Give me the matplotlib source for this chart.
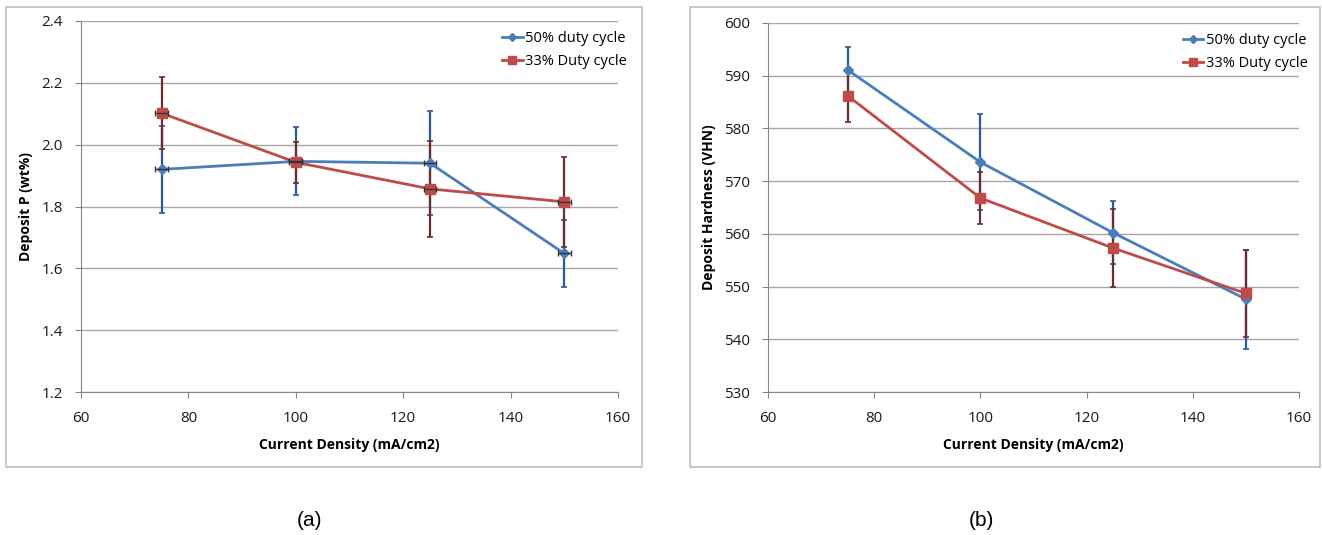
import matplotlib

matplotlib.use("Agg")
import matplotlib.pyplot as plt
from matplotlib.patches import Rectangle

current_density = [75, 100, 125, 150]

# (a) deposit P, wt%
p_50 = [1.92, 1.946, 1.94, 1.648]
p_50_err = [0.14, 0.11, 0.168, 0.107]
p_33 = [2.102, 1.943, 1.857, 1.815]
p_33_err = [0.117, 0.066, 0.155, 0.146]
p_xerr = [1.2, 1.2, 1.2, 1.2]

# (b) deposit hardness, VHN
h_50 = [591.1, 573.6, 560.2, 547.6]
h_50_err = [4.3, 9.1, 6.0, 9.4]
h_33 = [586.2, 566.8, 557.3, 548.7]
h_33_err = [4.9, 5.0, 7.4, 8.2]

labels = ["50% duty cycle", "33% Duty cycle"]
panel_tags = ["(a)", "(b)"]

BLUE = "#4a7ebb"
RED = "#be4b48"
BLUE_ERR = "#2f5a8f"
RED_ERR = "#6b2d2d"
GRID = "#a6a6a6"
FONT = "Liberation Sans"

plt.rcParams["font.family"] = ["Open Sans", "DejaVu Sans"]

fig = plt.figure(figsize=(13.22, 5.35), dpi=100)
W, H = 1322, 535


def px_axes(x0, x1, y0, y1):
    return fig.add_axes([x0 / W, 1 - y1 / H, (x1 - x0) / W, (y1 - y0) / H])


def style_axes(ax, ylim, yticks, yfmt, ylabel):
    ax.set_xlim(60, 160)
    ax.set_ylim(*ylim)
    ax.set_xticks(range(60, 161, 20))
    ax.set_yticks(yticks)
    ax.set_yticklabels([yfmt.format(v) for v in yticks])
    ax.yaxis.grid(True, color=GRID, lw=1)
    ax.set_axisbelow(True)
    for s in ["top", "right"]:
        ax.spines[s].set_visible(False)
    for s in ["left", "bottom"]:
        ax.spines[s].set_color("#868686")
    ax.tick_params(direction="out", length=4, color="#868686", labelsize=11,
                   labelcolor="#1a1a1a")
    ax.tick_params(axis="x", pad=10)
    ax.tick_params(axis="y", pad=9)
    ax.set_xlabel("Current Density (mA/cm2)", fontsize=10, fontweight="bold",
                  labelpad=8)
    ax.set_ylabel(ylabel, fontsize=10, fontweight="bold", labelpad=6)


def draw_series(ax, y, yerr, color, ecolor, marker, ms, label, xerr=None):
    ax.errorbar(current_density, y, yerr=yerr, xerr=xerr, fmt="none",
                ecolor=ecolor, elinewidth=1.6, capsize=2.5, capthick=1.2,
                zorder=3)
    ax.plot(current_density, y, color=color, lw=2, marker=marker, ms=ms,
            label=label, zorder=4)


# panel (a)
ax1 = px_axes(81, 618, 21, 392)
style_axes(ax1, (1.2, 2.4), [1.2, 1.4, 1.6, 1.8, 2.0, 2.2, 2.4], "{:.1f}",
           "Deposit P (wt%)")
draw_series(ax1, p_50, p_50_err, BLUE, BLUE_ERR, "D", 5, labels[0])
draw_series(ax1, p_33, p_33_err, RED, RED_ERR, "s", 7, labels[1])
ax1.errorbar(current_density, p_50, xerr=p_xerr, fmt="none", ecolor="#333333",
             elinewidth=1, capsize=2, zorder=5)
ax1.errorbar(current_density, p_33, xerr=p_xerr, fmt="none", ecolor="#333333",
             elinewidth=1, capsize=2, zorder=5)

# panel (b)
ax2 = px_axes(768, 1299, 23, 392)
style_axes(ax2, (530, 600), list(range(530, 601, 10)), "{:d}",
           "Deposit Hardness (VHN)")
draw_series(ax2, h_50, h_50_err, BLUE, BLUE_ERR, "D", 5, labels[0])
draw_series(ax2, h_33, h_33_err, RED, RED_ERR, "s", 7, labels[1])

for ax in (ax1, ax2):
    ax.legend(loc="upper right", bbox_to_anchor=(1.035, 1.0), frameon=False,
              fontsize=10.5, handlelength=1.4, handletextpad=0.15,
              labelspacing=0.55, borderaxespad=0.3, markerscale=0.75)

# chart frames
for x0, x1 in [(6, 642), (690, 1320)]:
    fig.patches.append(Rectangle((x0 / W, 1 - 467 / H), (x1 - x0) / W,
                                 (467 - 7) / H, transform=fig.transFigure,
                                 fill=False, edgecolor="#bfbfbf", lw=1.2))

for tag, xc in zip(panel_tags, [310, 981]):
    fig.text(xc / W, 1 - 520 / H, tag, ha="center", va="center", fontsize=15,
             family=FONT)

fig.savefig("out.png", dpi=100)
